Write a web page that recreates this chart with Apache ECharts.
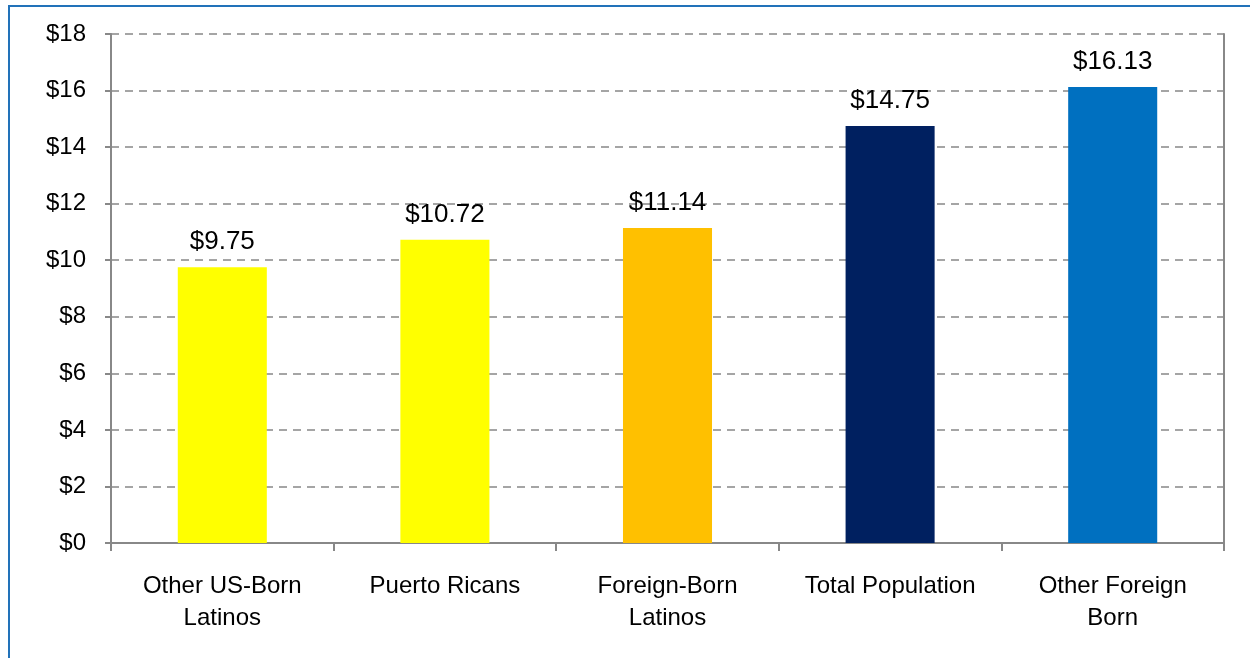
<!DOCTYPE html>
<html>
<head>
<meta charset="utf-8">
<script src="https://cdn.jsdelivr.net/npm/echarts@6/dist/echarts.min.js"></script>
<style>
  html, body { margin: 0; padding: 0; background: #fff; }
  #frame {
    position: absolute; left: 8px; top: 5px; width: 1300px; height: 700px;
    border-left: 2px solid #2272b9; border-top: 2px solid #2272b9;
  }
  #main { position: absolute; left: 0; top: 0; width: 1250px; height: 658px; }
</style>
</head>
<body>
<div id="frame"></div>
<div id="main"></div>
<script>
// categories and values
var categories = ['Other US-Born\nLatinos', 'Puerto Ricans', 'Foreign-Born\nLatinos', 'Total Population', 'Other Foreign\nBorn'];
var wages = [9.75, 10.72, 11.14, 14.75, 16.13];
var barColors = ['#FFFF00', '#FFFF00', '#FFC000', '#002060', '#0070C0'];

var font = 'Liberation Sans';

var myChart = echarts.init(document.getElementById('main'));
myChart.setOption({
  animation: false,
  grid: { left: 111, right: 26, top: 34, bottom: 115 },
  xAxis: {
    type: 'category',
    data: categories,
    axisLine: { lineStyle: { color: '#888', width: 2 } },
    axisTick: { show: true, alignWithLabel: false, length: 8, lineStyle: { color: '#888', width: 2 } },
    axisLabel: { color: '#000', fontSize: 24, fontFamily: font, margin: 27, lineHeight: 32, interval: 0 }
  },
  yAxis: [{
    type: 'value',
    min: 0, max: 18, interval: 2,
    axisLine: { show: true, lineStyle: { color: '#888', width: 2 } },
    axisTick: { show: true, length: 6, lineStyle: { color: '#888', width: 2 } },
    splitLine: { lineStyle: { color: '#888', type: [8, 6], width: 1.5 } },
    axisLabel: {
      color: '#000', fontSize: 24, fontFamily: font, margin: 25,
      formatter: function (v) { return '$' + v; }
    }
  }, {
    type: 'value',
    position: 'right',
    min: 0, max: 18, interval: 2,
    axisLine: { show: true, lineStyle: { color: '#888', width: 2 } },
    axisTick: { show: false },
    axisLabel: { show: false },
    splitLine: { show: false }
  }],
  series: [{
    name: 'Wage',
    type: 'bar',
    barWidth: '40%',
    data: wages.map(function (v, i) {
      return { value: v, itemStyle: { color: barColors[i] } };
    }),
    label: {
      show: true,
      position: 'top',
      distance: 12,
      color: '#000',
      fontSize: 26,
      fontFamily: font,
      formatter: function (p) { return '$' + p.value.toFixed(2); }
    }
  }]
});
</script>
</body>
</html>
